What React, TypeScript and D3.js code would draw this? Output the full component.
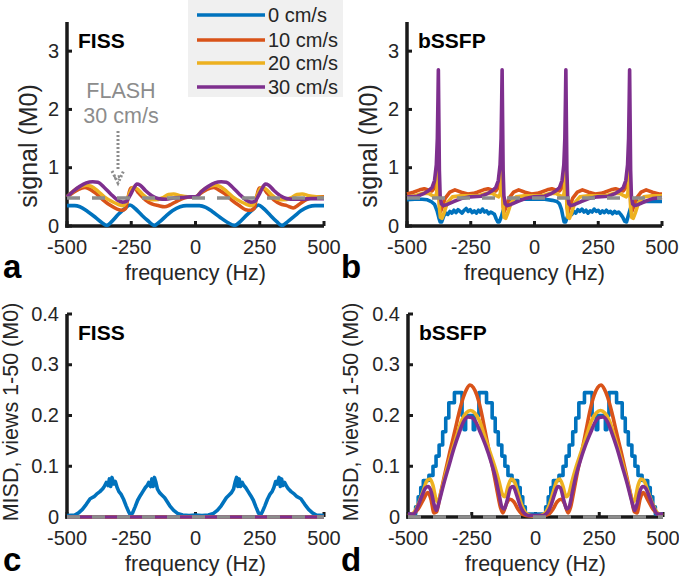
import React from 'react';
import * as d3 from 'd3';

type Pt = [number, number];

const FONT = '"Liberation Sans", Arial, Helvetica, sans-serif';
const TXT = '#262626';
const COLORS = ['#0072BD', '#D95319', '#EDB120', '#7E2F8E'];
const FLASH_COLOR = '#8c8c8c';

const legendLabels = ['0 cm/s', '10 cm/s', '20 cm/s', '30 cm/s'];
const xTicks = [-500, -250, 0, 250, 500];
const signalTicks = [0, 1, 2, 3];
const signalTickLabels = ['0', '1', '2', '3'];
const misdTicks = [0, 0.1, 0.2, 0.3, 0.4];
const misdTickLabels = ['0', '0.1', '0.2', '0.3', '0.4'];

// ---- Panel a: FISS signal ----
const fissSignal0: Pt[] = [[-500,0.35],[-470,0.35],[-450,0.33],[-420,0.25],[-390,0.15],[-365,0.06],[-345,0.01],[-325,0.08],[-300,0.2],[-275,0.3],[-255,0.36],[-235,0.3],[-210,0.19],[-185,0.09],[-160,0.01],[-140,0.07],[-115,0.17],[-90,0.26],[-60,0.33],[-35,0.35],[-10,0.35],[15,0.35],[40,0.32],[65,0.25],[95,0.15],[125,0.06],[152,0.01],[175,0.08],[200,0.19],[225,0.29],[245,0.36],[265,0.3],[290,0.19],[315,0.08],[337,0.01],[360,0.08],[385,0.17],[410,0.26],[440,0.33],[465,0.35],[500,0.35]];
const fissSignal10: Pt[] = [[-500,0.5],[-480,0.56],[-455,0.63],[-430,0.66],[-410,0.63],[-385,0.55],[-360,0.45],[-330,0.35],[-305,0.29],[-285,0.27],[-272,0.3],[-262,0.5],[-252,0.65],[-240,0.66],[-220,0.56],[-195,0.45],[-170,0.38],[-145,0.35],[-120,0.33],[-100,0.36],[-75,0.42],[-45,0.48],[-20,0.5],[0,0.5],[20,0.56],[45,0.63],[70,0.66],[90,0.62],[115,0.55],[140,0.45],[170,0.35],[195,0.28],[215,0.27],[228,0.3],[238,0.5],[248,0.65],[260,0.66],[280,0.56],[305,0.45],[330,0.38],[355,0.35],[380,0.31],[400,0.36],[425,0.44],[455,0.49],[480,0.5],[500,0.5]];
const fissSignal20: Pt[] = [[-500,0.5],[-475,0.6],[-450,0.67],[-425,0.7],[-405,0.68],[-380,0.6],[-355,0.5],[-325,0.42],[-300,0.37],[-282,0.35],[-268,0.42],[-255,0.58],[-243,0.66],[-228,0.64],[-205,0.54],[-180,0.46],[-155,0.45],[-130,0.48],[-105,0.54],[-85,0.55],[-60,0.52],[-30,0.5],[0,0.5],[25,0.6],[50,0.67],[75,0.7],[95,0.68],[120,0.6],[145,0.5],[175,0.42],[200,0.37],[218,0.35],[232,0.42],[245,0.58],[257,0.66],[272,0.64],[295,0.54],[320,0.46],[345,0.45],[370,0.48],[395,0.54],[415,0.55],[440,0.52],[470,0.5],[500,0.49]];
const fissSignal30: Pt[] = [[-500,0.5],[-475,0.6],[-450,0.68],[-425,0.74],[-400,0.76],[-380,0.75],[-355,0.66],[-330,0.55],[-305,0.45],[-285,0.41],[-270,0.42],[-255,0.52],[-240,0.65],[-228,0.72],[-215,0.7],[-195,0.61],[-170,0.52],[-145,0.47],[-115,0.46],[-85,0.48],[-50,0.49],[-20,0.5],[0,0.5],[25,0.6],[50,0.68],[75,0.74],[100,0.76],[120,0.75],[145,0.66],[170,0.55],[195,0.45],[215,0.41],[230,0.42],[245,0.52],[260,0.65],[272,0.72],[285,0.7],[305,0.61],[330,0.52],[355,0.47],[385,0.46],[415,0.46],[450,0.47],[480,0.47],[500,0.47]];
const flashSignal: Pt[] = [[-500,0.48],[500,0.48]];

// ---- Panel b: bSSFP signal ----
const bssfpSignal0: Pt[] = [[-500,0.45],[-470,0.46],[-440,0.46],[-420,0.45],[-405,0.42],[-392,0.37],[-382,0.26],[-375,0.14],[-370,0.07],[-364,0.07],[-356,0.17],[-348,0.22],[-340,0.2],[-332,0.25],[-324,0.22],[-316,0.27],[-308,0.23],[-300,0.28],[-292,0.25],[-284,0.22],[-276,0.27],[-268,0.3],[-260,0.25],[-252,0.28],[-244,0.23],[-236,0.26],[-228,0.22],[-220,0.27],[-212,0.24],[-204,0.29],[-196,0.24],[-188,0.26],[-180,0.21],[-172,0.24],[-164,0.22],[-157,0.2],[-150,0.12],[-144,0.07],[-138,0.07],[-130,0.16],[-122,0.28],[-112,0.37],[-95,0.42],[-70,0.45],[-40,0.46],[0,0.46],[40,0.46],[70,0.44],[88,0.42],[98,0.38],[106,0.28],[112,0.15],[116,0.07],[122,0.07],[130,0.17],[138,0.22],[146,0.2],[154,0.25],[162,0.22],[170,0.28],[178,0.25],[186,0.29],[194,0.24],[202,0.27],[210,0.22],[218,0.26],[226,0.24],[234,0.29],[242,0.25],[250,0.27],[258,0.22],[266,0.26],[274,0.23],[282,0.27],[290,0.23],[298,0.25],[306,0.21],[314,0.25],[322,0.22],[330,0.24],[338,0.2],[346,0.15],[354,0.08],[361,0.07],[368,0.18],[376,0.3],[385,0.38],[400,0.42],[430,0.42],[470,0.42],[500,0.42]];
const bssfpSignal10: Pt[] = [[-500,0.55],[-475,0.58],[-450,0.62],[-432,0.64],[-417,0.62],[-402,0.6],[-389,0.68],[-382,0.85],[-378,1.05],[-377,1.1],[-375,0.6],[-372,0.32],[-368,0.25],[-362,0.32],[-350,0.48],[-332,0.58],[-312,0.62],[-287,0.58],[-262,0.55],[-240,0.56],[-225,0.58],[-200,0.62],[-182,0.64],[-167,0.62],[-152,0.6],[-139,0.68],[-132,0.85],[-128,1.05],[-127,1.1],[-125,0.6],[-122,0.32],[-118,0.25],[-112,0.32],[-100,0.48],[-82,0.58],[-62,0.62],[-37,0.58],[-12,0.55],[10,0.56],[25,0.58],[50,0.62],[68,0.64],[83,0.62],[98,0.6],[111,0.68],[118,0.85],[122,1.05],[123,1.1],[125,0.6],[128,0.32],[132,0.25],[138,0.32],[150,0.48],[168,0.58],[188,0.62],[213,0.58],[238,0.55],[260,0.56],[275,0.58],[300,0.62],[318,0.64],[333,0.62],[348,0.6],[361,0.68],[368,0.85],[372,1.05],[373,1.1],[375,0.6],[378,0.32],[382,0.25],[388,0.32],[400,0.48],[418,0.58],[438,0.62],[463,0.58],[488,0.55],[500,0.55]];
const bssfpSignal20: Pt[] = [[-500,0.5],[-470,0.52],[-440,0.56],[-415,0.56],[-400,0.52],[-390,0.5],[-384,0.56],[-380,0.75],[-378,1.0],[-377,1.25],[-375,0.7],[-373,0.32],[-369,0.15],[-363,0.13],[-355,0.22],[-342,0.4],[-322,0.5],[-290,0.52],[-260,0.52],[-220,0.52],[-190,0.56],[-165,0.56],[-150,0.52],[-140,0.5],[-134,0.56],[-130,0.75],[-128,1.0],[-127,1.25],[-125,0.7],[-123,0.32],[-119,0.15],[-113,0.13],[-105,0.22],[-92,0.4],[-72,0.5],[-40,0.52],[-10,0.52],[30,0.52],[60,0.56],[85,0.56],[100,0.52],[110,0.5],[116,0.56],[120,0.75],[122,1.0],[123,1.25],[125,0.7],[127,0.32],[131,0.15],[137,0.13],[145,0.22],[158,0.4],[178,0.5],[210,0.52],[240,0.52],[280,0.52],[310,0.56],[335,0.56],[350,0.52],[360,0.5],[366,0.56],[370,0.75],[372,1.0],[373,1.25],[375,0.7],[377,0.32],[381,0.15],[387,0.13],[395,0.22],[408,0.4],[428,0.5],[460,0.52],[500,0.52]];
const bssfpSignal30: Pt[] = [[-500,0.5],[-460,0.51],[-437,0.55],[-417,0.6],[-402,0.66],[-392,0.78],[-385,1.05],[-381,1.5],[-378.5,2.2],[-377,2.68],[-375,1.8],[-373,0.95],[-370,0.52],[-365,0.38],[-357,0.35],[-342,0.37],[-317,0.42],[-287,0.47],[-252,0.5],[-210,0.51],[-187,0.55],[-167,0.6],[-152,0.66],[-142,0.78],[-135,1.05],[-131,1.5],[-128.5,2.2],[-127,2.68],[-125,1.8],[-123,0.95],[-120,0.52],[-115,0.38],[-107,0.35],[-92,0.37],[-67,0.42],[-37,0.47],[-2,0.5],[40,0.51],[63,0.55],[83,0.6],[98,0.66],[108,0.78],[115,1.05],[119,1.5],[121.5,2.2],[123,2.68],[125,1.8],[127,0.95],[130,0.52],[135,0.38],[143,0.35],[158,0.37],[183,0.42],[213,0.47],[248,0.5],[290,0.51],[313,0.55],[333,0.6],[348,0.66],[358,0.78],[365,1.05],[369,1.5],[371.5,2.2],[373,2.68],[375,1.8],[377,0.95],[380,0.52],[385,0.38],[393,0.35],[408,0.37],[433,0.42],[463,0.47],[500,0.49]];

// ---- Panel c: FISS MISD ----
const fissMisd0: Pt[] = [[-500,0.003],[-470,0.004],[-455,0.008],[-440,0.015],[-425,0.025],[-410,0.036],[-395,0.04],[-385,0.045],[-372,0.05],[-362,0.055],[-355,0.06],[-347,0.068],[-340,0.062],[-335,0.075],[-330,0.06],[-325,0.078],[-318,0.065],[-312,0.07],[-305,0.058],[-298,0.05],[-290,0.045],[-280,0.035],[-270,0.022],[-260,0.01],[-252,0.003],[-245,0.008],[-235,0.02],[-225,0.033],[-215,0.042],[-205,0.05],[-195,0.058],[-188,0.062],[-182,0.068],[-175,0.06],[-170,0.075],[-165,0.06],[-160,0.078],[-155,0.07],[-148,0.055],[-140,0.048],[-130,0.043],[-120,0.038],[-110,0.03],[-100,0.022],[-85,0.013],[-70,0.007],[-50,0.004],[-25,0.003],[0,0.004],[25,0.003],[50,0.004],[70,0.007],[85,0.013],[100,0.022],[110,0.03],[120,0.038],[130,0.043],[140,0.048],[148,0.055],[155,0.07],[160,0.078],[165,0.06],[170,0.075],[175,0.06],[182,0.068],[188,0.062],[195,0.058],[205,0.05],[215,0.042],[225,0.033],[235,0.02],[245,0.008],[252,0.003],[260,0.01],[270,0.022],[280,0.035],[290,0.045],[298,0.05],[305,0.058],[312,0.07],[318,0.065],[325,0.078],[330,0.06],[335,0.075],[340,0.062],[347,0.068],[355,0.06],[362,0.055],[372,0.05],[385,0.045],[395,0.04],[410,0.036],[425,0.025],[440,0.015],[455,0.008],[470,0.004],[500,0.003]];
const fissMisd10: Pt[] = [[-500,0],[500,0]];
const fissMisd20: Pt[] = [[-500,0],[500,0]];
const fissMisd30: Pt[] = [[-500,0],[500,0]];
const flashMisd: Pt[] = [[-500,0],[500,0]];

// ---- Panel d: bSSFP MISD ----
const bssfpMisd0: Pt[] = [[-500,0.006],[-470,0.02],[-460,0.04],[-450,0.058],[-440,0.072],[-418,0.082],[-402,0.1],[-390,0.12],[-378,0.142],[-364,0.168],[-352,0.195],[-340,0.225],[-318,0.245],[-288,0.2],[-280,0.172],[-274,0.2],[-244,0.172],[-238,0.2],[-222,0.245],[-192,0.225],[-170,0.195],[-158,0.168],[-146,0.142],[-132,0.12],[-120,0.1],[-108,0.082],[-92,0.072],[-70,0.058],[-60,0.04],[-50,0.02],[-40,0.006],[40,0.02],[50,0.04],[60,0.058],[70,0.072],[92,0.082],[108,0.1],[120,0.12],[132,0.142],[146,0.168],[158,0.195],[170,0.225],[192,0.245],[222,0.2],[238,0.172],[244,0.2],[274,0.172],[280,0.2],[288,0.245],[318,0.225],[340,0.195],[352,0.168],[364,0.142],[378,0.12],[390,0.1],[402,0.082],[418,0.072],[440,0.058],[450,0.04],[460,0.02],[470,0.006],[500,0.006]];
const bssfpMisd10: Pt[] = [[-500,0.003],[-480,0.006],[-460,0.016],[-440,0.034],[-422,0.048],[-410,0.035],[-398,0.008],[-388,0.01],[-375,0.04],[-355,0.086],[-335,0.13],[-316,0.17],[-300,0.205],[-283,0.236],[-270,0.252],[-257,0.26],[-244,0.255],[-230,0.24],[-214,0.21],[-198,0.17],[-182,0.13],[-165,0.09],[-150,0.05],[-138,0.02],[-128,0.008],[-115,0.025],[-100,0.035],[-85,0.03],[-68,0.015],[-50,0.005],[-25,0.002],[0,0.002],[25,0.002],[50,0.005],[68,0.015],[85,0.03],[100,0.035],[115,0.025],[128,0.008],[138,0.02],[150,0.05],[165,0.09],[182,0.13],[198,0.17],[214,0.21],[230,0.24],[244,0.255],[257,0.26],[270,0.252],[283,0.236],[300,0.205],[316,0.17],[335,0.13],[355,0.086],[375,0.04],[388,0.01],[398,0.008],[410,0.035],[422,0.048],[440,0.034],[460,0.016],[480,0.006],[500,0.003]];
const bssfpMisd20: Pt[] = [[-500,0.003],[-478,0.008],[-460,0.025],[-440,0.052],[-425,0.072],[-413,0.075],[-402,0.062],[-390,0.035],[-382,0.03],[-370,0.05],[-350,0.09],[-330,0.125],[-310,0.158],[-290,0.19],[-272,0.205],[-255,0.21],[-238,0.205],[-220,0.19],[-200,0.16],[-180,0.13],[-160,0.1],[-143,0.07],[-130,0.045],[-120,0.04],[-108,0.06],[-95,0.075],[-83,0.07],[-70,0.05],[-55,0.025],[-38,0.008],[-20,0.003],[0,0.002],[20,0.003],[38,0.008],[55,0.025],[70,0.05],[83,0.07],[95,0.075],[108,0.06],[120,0.04],[130,0.045],[143,0.07],[160,0.1],[180,0.13],[200,0.16],[220,0.19],[238,0.205],[255,0.21],[272,0.205],[290,0.19],[310,0.158],[330,0.125],[350,0.09],[370,0.05],[382,0.03],[390,0.035],[402,0.062],[413,0.075],[425,0.072],[440,0.052],[460,0.025],[478,0.008],[500,0.003]];
const bssfpMisd30: Pt[] = [[-500,0.006],[-478,0.006],[-462,0.02],[-445,0.042],[-430,0.058],[-420,0.06],[-408,0.048],[-398,0.025],[-389,0.013],[-378,0.03],[-360,0.065],[-340,0.1],[-320,0.135],[-300,0.165],[-282,0.188],[-265,0.197],[-250,0.196],[-235,0.188],[-215,0.165],[-195,0.14],[-175,0.11],[-158,0.08],[-143,0.045],[-132,0.02],[-122,0.016],[-110,0.035],[-97,0.058],[-87,0.06],[-75,0.045],[-60,0.022],[-45,0.008],[-28,0.003],[0,0.003],[28,0.003],[45,0.008],[60,0.022],[75,0.045],[87,0.06],[97,0.058],[110,0.035],[122,0.016],[132,0.02],[143,0.045],[158,0.08],[175,0.11],[195,0.14],[215,0.165],[235,0.188],[250,0.196],[265,0.197],[282,0.188],[300,0.165],[320,0.135],[340,0.1],[360,0.065],[378,0.03],[389,0.013],[398,0.025],[408,0.048],[420,0.06],[430,0.058],[445,0.042],[462,0.02],[478,0.006],[500,0.006]];

interface Series { data: Pt[]; color: string; curve: d3.CurveFactory; dash?: string; }

interface PanelProps {
  x0: number; x1: number; yb: number; yt: number; ymax: number;
  yticks: number[]; ytickLabels: string[];
  series: Series[];
  title: string; ylabel: string; ylabelX: number; ylabelY: number; ylabelSize: number;
  letter: string; letterX: number; letterY: number;
}

function Panel(p: PanelProps) {
  const x = d3.scaleLinear().domain([-500, 500]).range([p.x0, p.x1]);
  const y = d3.scaleLinear().domain([0, p.ymax]).range([p.yb, p.yt]);
  const axisColor = '#1a1a1a';
  return (
    <g>
      {/* axes */}
      <line x1={p.x0} x2={p.x0} y1={p.yb + 1.75} y2={p.yt} stroke={axisColor} strokeWidth={3.5} />
      <line x1={p.x0 - 1.75} x2={p.x1} y1={p.yb} y2={p.yb} stroke={axisColor} strokeWidth={3.5} />
      {p.yticks.map((t) => (
        <line key={'yt' + t} x1={p.x0} x2={p.x0 + 5} y1={y(t)} y2={y(t)} stroke={axisColor} strokeWidth={3} />
      ))}
      {xTicks.map((t) => (
        <line key={'xt' + t} x1={x(t)} x2={x(t)} y1={p.yb} y2={p.yb - 5} stroke={axisColor} strokeWidth={3} />
      ))}
      {/* data */}
      {p.series.map((s, i) => {
        const line = d3.line<Pt>().x((d) => x(d[0])).y((d) => y(d[1])).curve(s.curve);
        return (
          <path key={i} d={line(s.data) || ''} fill="none" stroke={s.color} strokeWidth={3.6}
            strokeDasharray={s.dash} strokeLinejoin="round" />
        );
      })}
      {/* tick labels */}
      {p.yticks.map((t, i) => (
        <text key={'yl' + t} x={p.x0 - 8} y={y(t)} dy="0.33em" textAnchor="end" fontSize={20} fill={TXT} fontFamily={FONT}>
          {p.ytickLabels[i]}
        </text>
      ))}
      {xTicks.map((t) => (
        <text key={'xl' + t} x={x(t)} y={p.yb + 28} textAnchor="middle" fontSize={20} fill={TXT} fontFamily={FONT}>
          {String(t)}
        </text>
      ))}
      <text x={(p.x0 + p.x1) / 2} y={p.yb + 54} textAnchor="middle" fontSize={21.5} fill={TXT} fontFamily={FONT}>
        frequency (Hz)
      </text>
      <text transform={`translate(${p.ylabelX},${p.ylabelY}) rotate(-90)`} textAnchor="middle" fontSize={p.ylabelSize} fill={TXT} fontFamily={FONT}>
        {p.ylabel}
      </text>
      <text x={p.x0 + 11} y={p.yt + 26} fontSize={21} fontWeight="bold" fill="#000" fontFamily={FONT}>
        {p.title}
      </text>
      <text x={p.letterX} y={p.letterY} fontSize={33} fontWeight="bold" fill="#000" fontFamily={FONT}>
        {p.letter}
      </text>
    </g>
  );
}

export default function App() {
  const mono = d3.curveMonotoneX;
  const lin = d3.curveLinear;
  const dash = '13 12';
  const sigA: Series[] = [
    { data: fissSignal0, color: COLORS[0], curve: mono },
    { data: fissSignal10, color: COLORS[1], curve: mono },
    { data: fissSignal20, color: COLORS[2], curve: mono },
    { data: fissSignal30, color: COLORS[3], curve: mono },
    { data: flashSignal, color: FLASH_COLOR, curve: lin, dash },
  ];
  const sigB: Series[] = [
    { data: bssfpSignal0, color: COLORS[0], curve: lin },
    { data: bssfpSignal10, color: COLORS[1], curve: lin },
    { data: bssfpSignal20, color: COLORS[2], curve: lin },
    { data: bssfpSignal30, color: COLORS[3], curve: lin },
    { data: flashSignal, color: FLASH_COLOR, curve: lin, dash },
  ];
  const misdC: Series[] = [
    { data: fissMisd0, color: COLORS[0], curve: lin },
    { data: fissMisd10, color: COLORS[1], curve: lin },
    { data: fissMisd20, color: COLORS[2], curve: lin },
    { data: fissMisd30, color: COLORS[3], curve: lin },
    { data: flashMisd, color: FLASH_COLOR, curve: lin, dash },
  ];
  const misdD: Series[] = [
    { data: bssfpMisd0, color: COLORS[0], curve: d3.curveStepAfter },
    { data: bssfpMisd10, color: COLORS[1], curve: mono },
    { data: bssfpMisd20, color: COLORS[2], curve: mono },
    { data: bssfpMisd30, color: COLORS[3], curve: mono },
    { data: flashMisd, color: FLASH_COLOR, curve: lin, dash },
  ];

  const legendY = [15, 40, 63, 87];

  return (
    <svg width={679} height={579} style={{ position: 'absolute', left: 0, top: 0, background: '#fff' }}>
      <rect x={0} y={0} width={679} height={579} fill="#fff" />
      <Panel x0={67} x1={324} yb={226} yt={22} ymax={3.5} yticks={signalTicks} ytickLabels={signalTickLabels}
        series={sigA} title="FISS" ylabel="signal (M0)" ylabelX={37} ylabelY={146} ylabelSize={25}
        letter="a" letterX={3} letterY={278} />
      <Panel x0={407} x1={662} yb={226} yt={22} ymax={3.5} yticks={signalTicks} ytickLabels={signalTickLabels}
        series={sigB} title="bSSFP" ylabel="signal (M0)" ylabelX={377} ylabelY={146} ylabelSize={25}
        letter="b" letterX={341} letterY={278} />
      <Panel x0={67} x1={324} yb={517} yt={314} ymax={0.4} yticks={misdTicks} ytickLabels={misdTickLabels}
        series={misdC} title="FISS" ylabel="MISD, views 1-50 (M0)" ylabelX={18} ylabelY={412} ylabelSize={21.5}
        letter="c" letterX={3} letterY={571} />
      <Panel x0={408} x1={663} yb={517} yt={314} ymax={0.4} yticks={misdTicks} ytickLabels={misdTickLabels}
        series={misdD} title="bSSFP" ylabel="MISD, views 1-50 (M0)" ylabelX={358} ylabelY={412} ylabelSize={21.5}
        letter="d" letterX={341} letterY={571} />

      {/* FLASH annotation */}
      <text x={121} y={98} textAnchor="middle" fontSize={21.5} fill={FLASH_COLOR} fontFamily={FONT}>FLASH</text>
      <text x={121} y={123} textAnchor="middle" fontSize={21.5} fill={FLASH_COLOR} fontFamily={FONT}>30 cm/s</text>
      <line x1={118} x2={118} y1={131} y2={170} stroke={FLASH_COLOR} strokeWidth={3} strokeDasharray="2 2" />
      <path d="M112,171 L118,183 L124,170 M114,178 L121,176" fill="none" stroke={FLASH_COLOR} strokeWidth={3} strokeDasharray="2 2" />

      {/* legend */}
      <rect x={188} y={0} width={155} height={97} fill="#f0f0f0" />
      {legendLabels.map((lab, i) => (
        <g key={lab}>
          <line x1={197} x2={265} y1={legendY[i]} y2={legendY[i]} stroke={COLORS[i]} strokeWidth={3.6} />
          <text x={268} y={legendY[i]} dy="0.36em" fontSize={20} fill={TXT} fontFamily={FONT}>{lab}</text>
        </g>
      ))}
    </svg>
  );
}
